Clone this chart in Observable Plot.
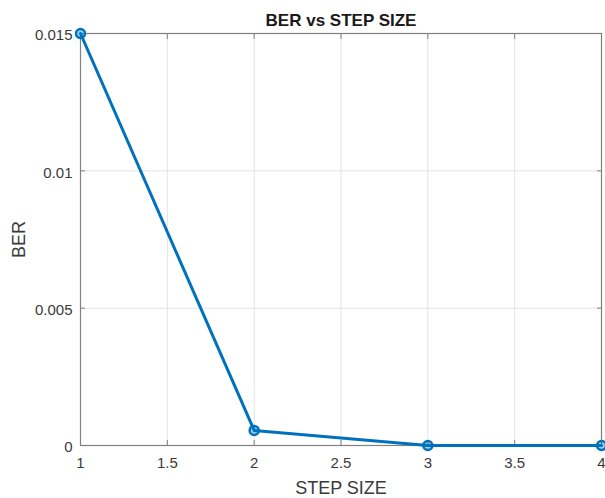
<!DOCTYPE html>
<html>
<head>
<meta charset="utf-8">
<script src="https://cdn.jsdelivr.net/npm/d3@7"></script>
<script src="https://cdn.jsdelivr.net/npm/@observablehq/plot@0.6"></script>
<style>
  html, body { margin: 0; padding: 0; background: #fff; }
  #chart svg { display: block; }
</style>
</head>
<body>
<div id="chart"></div>
<script>
// Bit error rate measured at each step size
const stepSize = [1, 2, 3, 4];
const ber = [0.015, 0.00055, 0, 0];

// Axis ticks
const xTicks = [1, 1.5, 2, 2.5, 3, 3.5, 4];
const yTicks = [0, 0.005, 0.01, 0.015];

const titleText = "BER vs STEP SIZE";
const xLabel = "STEP SIZE";
const yLabel = "BER";

const data = stepSize.map((s, i) => ({step: s, ber: ber[i]}));

const blue = "#0072BD";
const axisGray = "#808080";
const textGray = "#3a3a3a";
const font = "'Liberation Sans', Arial, Helvetica, sans-serif";

const chart = Plot.plot({
  width: 605,
  height: 498,
  marginLeft: 80,
  marginRight: 4,
  marginTop: 33,
  marginBottom: 53,
  style: {fontFamily: font, background: "#fff", overflow: "visible"},
  x: {domain: [1, 4]},
  y: {domain: [0, 0.015]},
  marks: [
    Plot.gridX(xTicks, {stroke: "#e3e3e3", strokeOpacity: 1, strokeWidth: 1}),
    Plot.gridY(yTicks, {stroke: "#e3e3e3", strokeOpacity: 1, strokeWidth: 1}),
    Plot.frame({stroke: axisGray, strokeWidth: 1.2}),
    // inward tick marks on all four sides
    Plot.axisX(xTicks, {anchor: "bottom", tickSize: -5, fill: "none", stroke: axisGray, label: null}),
    Plot.axisX(xTicks, {anchor: "top", tickSize: -5, fill: "none", stroke: axisGray, label: null}),
    Plot.axisY(yTicks, {anchor: "left", tickSize: -5, fill: "none", stroke: axisGray, label: null}),
    Plot.axisY(yTicks, {anchor: "right", tickSize: -5, fill: "none", stroke: axisGray, label: null}),
    // tick labels
    Plot.axisX(xTicks, {anchor: "bottom", tickSize: 0, tickPadding: 12, fontSize: 15, fill: textGray, label: null, tickFormat: d => String(d)}),
    Plot.axisY(yTicks, {anchor: "left", tickSize: 0, tickPadding: 8, dy: 2, fontSize: 15, fill: textGray, label: null, tickFormat: d => String(d)}),
    // series
    Plot.line(data, {x: "step", y: "ber", stroke: blue, strokeWidth: 3}),
    Plot.dot(data, {x: "step", y: "ber", r: 4.5, stroke: blue, strokeWidth: 2.5, fill: blue, fillOpacity: 0.35}),
    // title and axis labels
    Plot.text([titleText], {text: d => d, frameAnchor: "top", textAnchor: "middle", lineAnchor: "bottom", dy: -8, fontSize: 17, fontWeight: "bold", fill: "#1a1a1a"}),
    Plot.text([xLabel], {text: d => d, frameAnchor: "bottom", textAnchor: "middle", lineAnchor: "bottom", dy: 48, fontSize: 18, fill: textGray}),
    Plot.text([yLabel], {text: d => d, frameAnchor: "left", textAnchor: "middle", rotate: -90, lineAnchor: "top", dx: -68, fontSize: 18, fill: textGray})
  ]
});

document.getElementById("chart").appendChild(chart);
</script>
</body>
</html>
